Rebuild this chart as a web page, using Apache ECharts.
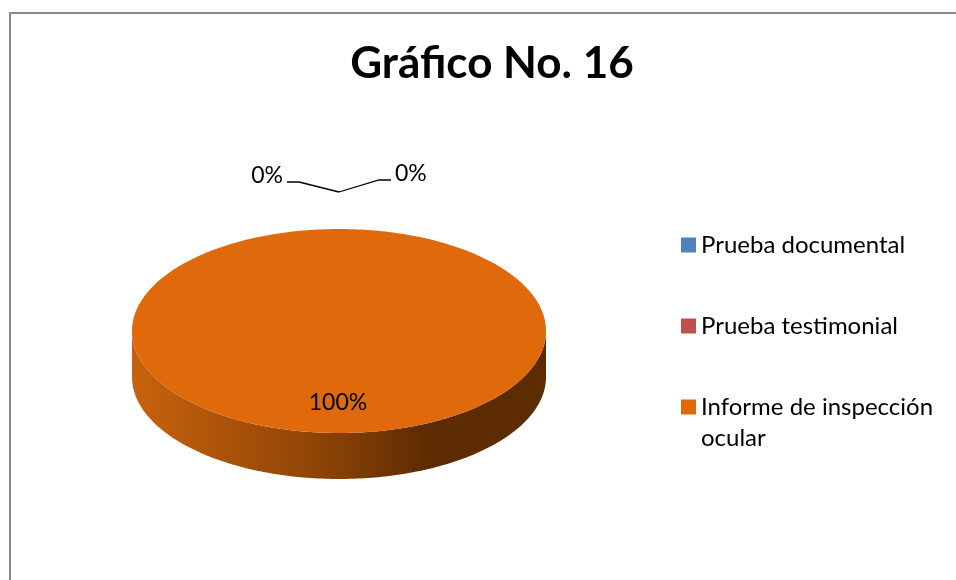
<!DOCTYPE html>
<html>
<head>
<meta charset="utf-8">
<script src="https://cdn.jsdelivr.net/npm/echarts@6/dist/echarts.min.js"></script>
<style>
  html, body { margin: 0; padding: 0; background: #fff; }
  #chart { width: 956px; height: 580px; }
</style>
</head>
<body>
<div id="chart"></div>
<script>
// datos del gráfico
const categories = ['Prueba documental', 'Prueba testimonial', 'Informe de inspección ocular'];
const values = [0, 0, 100];

const total = values.reduce((a, b) => a + b, 0);
const sliceColors = ['#4f81bd', '#c0504d', '#e0690b'];

// pastel 3D dibujado como elipse
const cx = 339, cy = 331, rx = 207, ry = 102, depth = 46;

function pt(deg, k, dy) {
  const r = deg * Math.PI / 180;
  return [cx + rx * k * Math.sin(r), cy - ry * k * Math.cos(r) + (dy || 0)];
}

function makeRender(idx) {
  return function (params, api) {
    const v = api.value(0);
    const before = values.slice(0, idx).reduce((a, b) => a + b, 0);
    const a0 = before / total * 360;
    const a1 = a0 + v / total * 360;
    const pct = Math.round(v / total * 100) + '%';
    const children = [];

    if (v > 0) {
      // lado frontal
      const s0 = Math.max(a0, 90), s1 = Math.min(a1, 270);
      if (s1 > s0) {
        const side = [];
        for (let a = s0; a <= s1; a += 1) side.push(pt(a, 1));
        for (let a = s1; a >= s0; a -= 1) side.push(pt(a, 1, depth));
        children.push({
          type: 'polygon',
          shape: { points: side },
          style: {
            fill: {
              type: 'linear', x: 0, y: 0, x2: 1, y2: 0,
              colorStops: [
                { offset: 0, color: '#c8620e' },
                { offset: 0.45, color: '#8e4406' },
                { offset: 0.72, color: '#5c2b01' },
                { offset: 1, color: '#5e2c02' }
              ]
            }
          }
        });
      }
      // cara superior
      const top = [];
      if (a1 - a0 < 360) top.push([cx, cy]);
      for (let a = a0; a <= a1; a += 1) top.push(pt(a, 1));
      children.push({
        type: 'polygon',
        shape: { points: top },
        style: { fill: api.visual('color') }
      });
      const mid = pt((a0 + a1) / 2, 0.7);
      children.push({
        type: 'text',
        style: {
          x: mid[0] - 1, y: mid[1], text: pct,
          fill: '#000', font: '23px Lato',
          align: 'center', verticalAlign: 'middle'
        }
      });
    } else {
      // etiqueta exterior con línea guía
      const t = pt((a0 + a1) / 2, 1, -37);
      const left = idx % 2 === 0;
      const d = left ? -1 : 1;
      const knee = [t[0] + d * 40, t[1] - (left ? 10 : 12)];
      const end = [knee[0] + d * 12, knee[1]];
      children.push({
        type: 'polyline',
        shape: { points: [t, knee, end] },
        style: { stroke: '#000', lineWidth: 1.3, fill: null }
      });
      children.push({
        type: 'text',
        style: {
          x: end[0] + d * 4, y: end[1] - 6, text: pct,
          fill: '#000', font: '23px Lato',
          align: left ? 'right' : 'left', verticalAlign: 'middle'
        }
      });
    }
    return { type: 'group', children: children };
  };
}

const series = categories.map((name, i) => ({
  name: name,
  type: 'custom',
  coordinateSystem: 'none',
  itemStyle: { color: sliceColors[i] },
  silent: true,
  renderItem: makeRender(i),
  data: [[values[i]]]
}));

const legendTops = [224.5, 305.5, 355.5];
const legends = categories.map((name, i) => ({
  data: [name],
  orient: 'vertical',
  left: 676,
  top: legendTops[i],
  itemWidth: 15,
  itemHeight: 15,
  icon: 'rect',
  itemGap: 0,
  selectedMode: false,
  // la última entrada ocupa dos líneas; una línea vacía arriba alinea el icono con la primera
  formatter: n => n === 'Informe de inspección ocular' ? '\nInforme de inspección\nocular' : n,
  textStyle: { fontFamily: 'Lato', fontSize: 24, lineHeight: 31, color: '#000' }
}));

const chart = echarts.init(document.getElementById('chart'));
chart.setOption({
  animation: false,
  title: {
    text: 'Gráfico No. 16',
    left: 487,
    top: 37,
    textAlign: 'center',
    textStyle: { fontFamily: 'Lato', fontWeight: 'bold', fontSize: 44, color: '#000' }
  },
  graphic: [{
    type: 'rect',
    shape: { x: 10, y: 13, width: 1000, height: 700 },
    style: { fill: null, stroke: '#8a8a8a', lineWidth: 2 },
    silent: true
  }],
  legend: legends,
  series: series
});
</script>
</body>
</html>
